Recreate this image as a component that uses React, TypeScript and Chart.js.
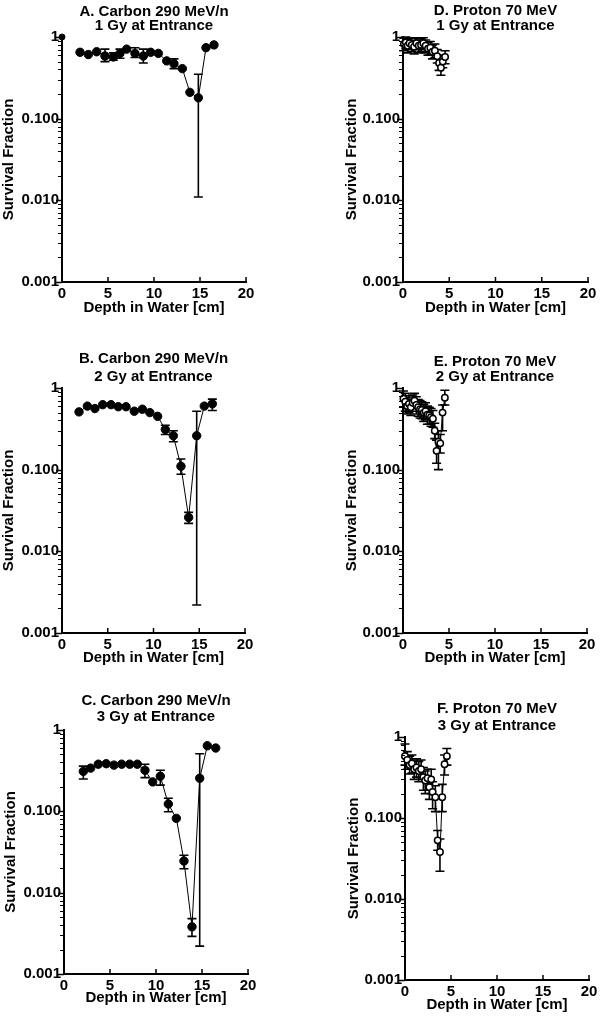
import React, { useEffect, useRef } from 'react';
import { Chart, registerables } from 'chart.js';

Chart.register(...registerables);

const FONT = '"Liberation Sans", Arial, Helvetica, sans-serif';

// ---------- axis ticks ----------
const depthTicks = [0, 5, 10, 15, 20];
const survivalTicks = [0.001, 0.01, 0.1, 1];
const survivalTickLabels = ['0.001', '0.010', '0.100', '1'];

// ---------- Panel A: Carbon 290 MeV/n, 1 Gy ----------
const depthA = [1.96, 2.86, 3.77, 4.67, 5.58, 6.3, 7.03, 7.93, 8.84, 9.64, 10.47, 11.38, 12.17, 13.08, 13.9, 14.82, 15.65, 16.52];
const survA = [0.65, 0.61, 0.66, 0.585, 0.57, 0.63, 0.71, 0.63, 0.585, 0.65, 0.63, 0.51, 0.47, 0.41, 0.21, 0.18, 0.74, 0.8];
const lowA = [null, null, null, 0.5, 0.52, 0.55, null, 0.56, 0.48, null, null, null, 0.41, null, null, 0.011, null, null];
const highA = [null, null, null, 0.71, 0.64, 0.71, null, 0.74, 0.71, null, null, null, 0.54, null, null, 0.35, null, null];
const entranceDepthA = [0];
const entranceSurvA = [1];

// ---------- Panel B: Carbon 290 MeV/n, 2 Gy ----------
const depthB = [1.86, 2.77, 3.6, 4.45, 5.36, 6.15, 7.0, 7.9, 8.78, 9.6, 10.45, 11.29, 12.17, 13.0, 13.84, 14.72, 15.55, 16.43];
const survB = [0.51, 0.6, 0.56, 0.625, 0.625, 0.59, 0.59, 0.52, 0.55, 0.5, 0.45, 0.31, 0.26, 0.11, 0.026, 0.26, 0.6, 0.64];
const lowB = [null, null, null, null, null, null, null, null, null, null, null, 0.27, 0.22, 0.088, 0.022, 0.0022, null, 0.53];
const highB = [null, null, null, null, null, null, null, null, null, null, null, 0.35, 0.3, 0.135, 0.03, 0.52, null, 0.73];

// ---------- Panel C: Carbon 290 MeV/n, 3 Gy ----------
const depthC = [2.1, 2.9, 3.73, 4.59, 5.43, 6.27, 7.14, 7.97, 8.8, 9.64, 10.47, 11.34, 12.21, 13.04, 13.91, 14.75, 15.58, 16.49];
const survC = [0.31, 0.34, 0.38, 0.385, 0.37, 0.38, 0.38, 0.38, 0.32, 0.23, 0.27, 0.123, 0.082, 0.0245, 0.0038, 0.255, 0.64, 0.6];
const lowC = [0.25, null, null, null, null, null, null, null, 0.26, null, 0.21, 0.099, null, 0.0197, 0.0029, 0.0022, null, null];
const highC = [0.36, null, null, null, null, null, null, null, 0.38, null, 0.32, 0.145, null, 0.0288, 0.0048, 0.51, null, null];

// ---------- Panel D: Proton 70 MeV, 1 Gy ----------
const depthD = [0.1, 0.3, 0.5, 0.7, 0.95, 1.2, 1.45, 1.7, 1.95, 2.2, 2.45, 2.7, 2.95, 3.2, 3.45, 3.7, 3.9, 4.1, 4.3, 4.55];
const survD = [0.82, 0.86, 0.78, 0.84, 0.8, 0.76, 0.84, 0.78, 0.8, 0.84, 0.78, 0.72, 0.74, 0.66, 0.68, 0.58, 0.48, 0.42, 0.5, 0.57];
const lowD = [0.68, 0.72, 0.64, 0.7, 0.66, 0.62, 0.7, 0.64, 0.66, 0.7, 0.64, 0.6, 0.6, 0.54, 0.56, 0.48, 0.39, 0.34, 0.42, 0.47];
const highD = [0.97, 1.0, 0.93, 0.98, 0.95, 0.9, 0.98, 0.92, 0.95, 0.98, 0.92, 0.86, 0.88, 0.8, 0.82, 0.7, 0.58, 0.51, 0.6, 0.68];

// ---------- Panel E: Proton 70 MeV, 2 Gy ----------
const depthE = [0.05, 0.25, 0.45, 0.65, 0.85, 1.05, 1.25, 1.45, 1.65, 1.85, 2.05, 2.25, 2.45, 2.65, 2.85, 3.05, 3.25, 3.45, 3.65, 3.85, 4.05, 4.3, 4.55];
const survE = [0.74, 0.68, 0.6, 0.64, 0.58, 0.66, 0.7, 0.62, 0.58, 0.55, 0.54, 0.5, 0.52, 0.47, 0.46, 0.44, 0.42, 0.3, 0.17, 0.22, 0.21, 0.5, 0.76];
const lowE = [0.58, 0.52, 0.48, 0.5, 0.46, 0.52, 0.56, 0.48, 0.45, 0.43, 0.42, 0.39, 0.41, 0.36, 0.36, 0.34, 0.33, 0.24, 0.12, 0.1, 0.16, 0.3, 0.62];
const highE = [0.92, 0.86, 0.76, 0.8, 0.72, 0.82, 0.86, 0.78, 0.72, 0.7, 0.68, 0.63, 0.66, 0.6, 0.58, 0.56, 0.53, 0.37, 0.23, 0.3, 0.27, 0.62, 0.94];

// ---------- Panel F: Proton 70 MeV, 3 Gy ----------
const depthF = [0.0, 0.25, 0.5, 0.75, 1.0, 1.25, 1.5, 1.75, 2.0, 2.2, 2.45, 2.65, 2.85, 3.0, 3.3, 3.55, 3.8, 4.05, 4.3, 4.55];
const survF = [0.58, 0.52, 0.45, 0.47, 0.4, 0.42, 0.38, 0.4, 0.32, 0.29, 0.31, 0.24, 0.3, 0.21, 0.18, 0.053, 0.038, 0.18, 0.46, 0.58];
const lowF = [0.45, 0.4, 0.35, 0.36, 0.3, 0.32, 0.28, 0.3, 0.22, 0.2, 0.22, 0.17, 0.2, 0.13, 0.12, 0.04, 0.022, 0.12, 0.34, 0.45];
const highF = [0.82, 0.66, 0.58, 0.6, 0.52, 0.54, 0.5, 0.52, 0.42, 0.38, 0.4, 0.32, 0.4, 0.28, 0.25, 0.07, 0.055, 0.26, 0.6, 0.72];

const titleA = ['A. Carbon 290 MeV/n', '1 Gy at Entrance'];
const titleB = ['B. Carbon 290 MeV/n', '2 Gy at Entrance'];
const titleC = ['C. Carbon 290 MeV/n', '3 Gy at Entrance'];
const titleD = ['D. Proton 70 MeV', '1 Gy at Entrance'];
const titleE = ['E. Proton 70 MeV', '2 Gy at Entrance'];
const titleF = ['F. Proton 70 MeV', '3 Gy at Entrance'];

const xAxisTitle = 'Depth in Water [cm]';
const yAxisTitle = 'Survival Fraction';

type Series = {
  depth: number[];
  surv: number[];
  low: (number | null)[];
  high: (number | null)[];
  kind: 'carbon' | 'proton';
};

type Layout = {
  left: number; top: number; w: number; h: number;
  yW: number; padRight: number;
  titleLh: number; titlePadTop: number; titlePadBottom: number;
  xH: number; xTitlePb: number; yTitlePt: number;
};

type Panel = { id: string; title: string[]; series: Series; extra?: { depth: number[]; surv: number[] }; layout: Layout };

const PANELS: Panel[] = [
  { id: 'A', title: titleA, series: { depth: depthA, surv: survA, low: lowA, high: highA, kind: 'carbon' }, extra: { depth: entranceDepthA, surv: entranceSurvA },
    layout: { left: 0, top: 0, w: 270, h: 325, yW: 62, padRight: 24, titleLh: 14.5, titlePadTop: 4.45, titlePadBottom: 3.55, xH: 43, xTitlePb: 8, yTitlePt: 0.3 } },
  { id: 'B', title: titleB, series: { depth: depthB, surv: survB, low: lowB, high: highB, kind: 'carbon' },
    layout: { left: 0, top: 325, w: 270, h: 347, yW: 62, padRight: 25, titleLh: 17.4, titlePadTop: 25.6, titlePadBottom: 2.6, xH: 39, xTitlePb: 5, yTitlePt: 0.2 } },
  { id: 'C', title: titleC, series: { depth: depthC, surv: survC, low: lowC, high: highC, kind: 'carbon' },
    layout: { left: 0, top: 672, w: 270, h: 345, yW: 64, padRight: 22, titleLh: 16.6, titlePadTop: 20.4, titlePadBottom: 4.4, xH: 43, xTitlePb: 10.5, yTitlePt: 1.7 } },
  { id: 'D', title: titleD, series: { depth: depthD, surv: survD, low: lowD, high: highD, kind: 'proton' },
    layout: { left: 335, top: 0, w: 265, h: 325, yW: 68, padRight: 12, titleLh: 15.3, titlePadTop: 3.05, titlePadBottom: 3.35, xH: 43, xTitlePb: 8, yTitlePt: 7.7 } },
  { id: 'E', title: titleE, series: { depth: depthE, surv: survE, low: lowE, high: highE, kind: 'proton' },
    layout: { left: 335, top: 325, w: 265, h: 347, yW: 68, padRight: 13, titleLh: 15, titlePadTop: 29.8, titlePadBottom: 3.2, xH: 39, xTitlePb: 5, yTitlePt: 8 } },
  { id: 'F', title: titleF, series: { depth: depthF, surv: survF, low: lowF, high: highF, kind: 'proton' },
    layout: { left: 335, top: 672, w: 265, h: 345, yW: 70, padRight: 11, titleLh: 16.7, titlePadTop: 28.65, titlePadBottom: 2.95, xH: 37, xTitlePb: 3, yTitlePt: 10.3 } },
];

const errorBarPlugin = {
  id: 'errorBars',
  beforeDatasetsDraw(chart: any) {
    const ctx = chart.ctx;
    const xs = chart.scales.x;
    const ys = chart.scales.y;
    chart.data.datasets.forEach((ds: any) => {
      if (!ds.errLow) return;
      ctx.save();
      ctx.strokeStyle = '#000';
      ctx.lineWidth = 1.6;
      const cap = 4.5;
      ds.data.forEach((p: any, i: number) => {
        const lo = ds.errLow[i];
        const hi = ds.errHigh[i];
        if (lo == null || hi == null) return;
        const x = xs.getPixelForValue(p.x);
        const y1 = ys.getPixelForValue(lo);
        const y2 = ys.getPixelForValue(hi);
        ctx.beginPath();
        ctx.moveTo(x, y1);
        ctx.lineTo(x, y2);
        ctx.moveTo(x - cap, y1);
        ctx.lineTo(x + cap, y1);
        ctx.moveTo(x - cap, y2);
        ctx.lineTo(x + cap, y2);
        ctx.stroke();
      });
      ctx.restore();
    });
  },
};

const tickMarkPlugin = {
  id: 'tickMarks',
  afterDraw(chart: any) {
    const { ctx, chartArea } = chart;
    const xs = chart.scales.x;
    const ys = chart.scales.y;
    ctx.save();
    ctx.strokeStyle = '#000';
    for (let d = 0; d < survivalTicks.length; d++) {
      const base = survivalTicks[d];
      for (let m = 1; m <= 9; m++) {
        const v = base * m;
        if (v > 1.0001) break;
        const py = Math.round(ys.getPixelForValue(v)) + 0.5;
        const len = m === 1 ? 5 : 3;
        ctx.lineWidth = m === 1 ? 1.5 : 1;
        ctx.beginPath();
        ctx.moveTo(chartArea.left - 1 - len, py);
        ctx.lineTo(chartArea.left, py);
        ctx.stroke();
      }
    }
    ctx.lineWidth = 1.5;
    depthTicks.forEach((v) => {
      if (v === 0) return;
      const px = xs.getPixelForValue(v);
      ctx.beginPath();
      ctx.moveTo(px, chartArea.bottom);
      ctx.lineTo(px, chartArea.bottom - 5);
      ctx.stroke();
    });
    ctx.restore();
  },
};

function buildConfig(panel: Panel): any {
  const { series: s, layout: L } = panel;
  const tickFont = { family: FONT, size: 15, weight: 'bold' as const };
  const datasets: any[] = [
    {
      data: s.depth.map((x, i) => ({ x, y: s.surv[i] })),
      errLow: s.low,
      errHigh: s.high,
      showLine: true,
      borderColor: '#000',
      borderWidth: 1,
      pointStyle: 'circle',
      pointRadius: s.kind === 'carbon' ? 4.2 : 3.2,
      pointBorderWidth: s.kind === 'carbon' ? 1 : 1.5,
      pointBackgroundColor: s.kind === 'carbon' ? '#000' : '#fff',
      pointBorderColor: '#000',
      clip: false,
    },
  ];
  if (panel.extra) {
    datasets.push({
      data: panel.extra.depth.map((x, i) => ({ x, y: panel.extra!.surv[i] })),
      showLine: false,
      pointStyle: 'circle',
      pointRadius: 3,
      pointBackgroundColor: '#000',
      pointBorderColor: '#000',
      clip: false,
    });
  }
  return {
    type: 'scatter',
    data: { datasets },
    options: {
      responsive: false,
      animation: false,
      devicePixelRatio: 1,
      layout: { padding: { left: 0, top: 0, right: L.padRight, bottom: 0 } },
      plugins: {
        legend: { display: false },
        tooltip: { enabled: false },
        title: {
          display: true,
          text: panel.title,
          fullSize: false,
          color: '#000',
          font: { family: FONT, size: 15, weight: 'bold', lineHeight: `${L.titleLh}px` },
          padding: { top: L.titlePadTop, bottom: L.titlePadBottom },
        },
      },
      scales: {
        x: {
          type: 'linear',
          min: 0,
          max: 20,
          afterBuildTicks: (scale: any) => {
            scale.ticks = depthTicks.map((v) => ({ value: v }));
          },
          afterFit: (scale: any) => {
            scale.height = L.xH;
            scale.paddingLeft = 0;
            scale.paddingRight = 0;
          },
          grid: { display: false, drawTicks: false },
          border: { display: true, color: '#000', width: 2 },
          ticks: {
            font: tickFont,
            color: '#000',
            padding: 3,
            autoSkip: false,
            maxRotation: 0,
            callback: (v: any) => String(v),
          },
          title: {
            display: true,
            text: xAxisTitle,
            color: '#000',
            font: { family: FONT, size: 15, weight: 'bold' },
            padding: { top: 0, bottom: L.xTitlePb },
          },
        },
        y: {
          type: 'logarithmic',
          min: 0.001,
          max: 1,
          afterBuildTicks: (scale: any) => {
            scale.ticks = survivalTicks.map((v) => ({ value: v }));
          },
          afterFit: (scale: any) => {
            scale.width = L.yW;
            scale.paddingTop = 0;
            scale.paddingBottom = 0;
          },
          grid: { display: false, drawTicks: false },
          border: { display: true, color: '#000', width: 2 },
          ticks: {
            font: tickFont,
            color: '#000',
            padding: 3,
            autoSkip: false,
            callback: (_v: any, i: number) => survivalTickLabels[i],
          },
          title: {
            display: true,
            text: yAxisTitle,
            color: '#000',
            font: { family: FONT, size: 15, weight: 'bold' },
            padding: { top: L.yTitlePt, bottom: 0 },
          },
        },
      },
    },
    plugins: [errorBarPlugin, tickMarkPlugin],
  };
}

function PanelChart({ panel }: { panel: Panel }) {
  const ref = useRef<HTMLCanvasElement | null>(null);
  useEffect(() => {
    if (!ref.current) return;
    const chart = new Chart(ref.current, buildConfig(panel));
    return () => chart.destroy();
  }, [panel]);
  const L = panel.layout;
  return (
    <canvas
      ref={ref}
      width={L.w}
      height={L.h}
      style={{ position: 'absolute', left: L.left, top: L.top, width: L.w, height: L.h }}
    />
  );
}

export default function App() {
  return (
    <div style={{ position: 'absolute', left: 0, top: 0, width: 600, height: 1017, background: '#fff', overflow: 'hidden' }}>
      {PANELS.map((p) => (
        <PanelChart key={p.id} panel={p} />
      ))}
    </div>
  );
}
